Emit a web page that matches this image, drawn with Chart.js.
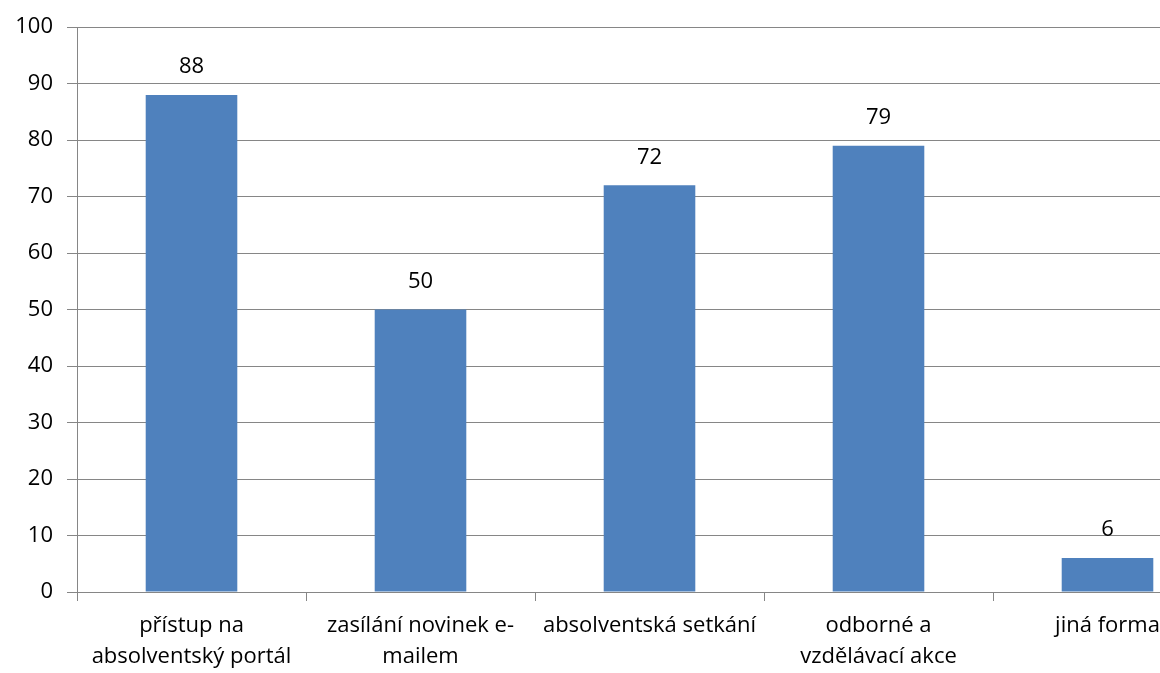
<!DOCTYPE html>
<html lang="cs">
<head>
    <meta charset="UTF-8">
    <title>Formy kontaktu s absolventy</title>
    <script src="https://cdn.jsdelivr.net/npm/chart.js"></script>
    <style>
        html, body { margin: 0; padding: 0; background: #fff; overflow: hidden; }
        #wrap { width: 1232px; height: 673px; }
    </style>
</head>
<body>

<div id="wrap"><canvas id="barChart"></canvas></div>

<script>
    // data
    const categories = [
        ['přístup na', 'absolventský portál'],
        ['zasílání novinek e-', 'mailem'],
        ['absolventská setkání'],
        ['odborné a', 'vzdělávací akce'],
        ['jiná forma']
    ];
    const values = [88, 50, 72, 79, 6];
    const yTicks = [0, 10, 20, 30, 40, 50, 60, 70, 80, 90, 100];

    const gridGrey = '#868686';
    const fontFamily = '"Open Sans", Lato, sans-serif';

    // value labels above the bars
    const valueLabels = {
        id: 'valueLabels',
        afterDatasetsDraw(chart) {
            const ctx = chart.ctx;
            const meta = chart.getDatasetMeta(0);
            ctx.save();
            ctx.font = '22px ' + fontFamily;
            ctx.fillStyle = '#000';
            ctx.textAlign = 'center';
            ctx.textBaseline = 'middle';
            meta.data.forEach((bar, i) => {
                ctx.fillText(String(values[i]), bar.x, bar.y - 28);
            });
            ctx.restore();
        }
    };

    new Chart(document.getElementById('barChart'), {
        type: 'bar',
        data: {
            labels: categories,
            datasets: [{
                data: values,
                backgroundColor: '#4F81BD',
                categoryPercentage: 1,
                barPercentage: 0.4
            }]
        },
        options: {
            responsive: true,
            maintainAspectRatio: false,
            animation: false,
            layout: { padding: { top: 26, right: 10, left: 0, bottom: 0 } },
            plugins: {
                legend: { display: false },
                tooltip: { enabled: false }
            },
            scales: {
                x: {
                    grid: {
                        offset: true,
                        drawOnChartArea: false,
                        drawTicks: true,
                        tickLength: 9,
                        color: gridGrey
                    },
                    border: { color: gridGrey },
                    ticks: {
                        color: '#000',
                        maxRotation: 0,
                        autoSkip: false,
                        padding: 10,
                        font: { family: fontFamily, size: 22, lineHeight: 1.38 }
                    },
                    afterFit(scale) { scale.height = 81; }
                },
                y: {
                    min: 0,
                    max: 100,
                    afterBuildTicks(scale) {
                        scale.ticks = yTicks.map(v => ({ value: v }));
                    },
                    grid: {
                        color: gridGrey,
                        tickLength: 10
                    },
                    border: { color: gridGrey },
                    ticks: {
                        color: '#000',
                        padding: 14,
                        font: { family: fontFamily, size: 22 }
                    },
                    afterFit(scale) { scale.width = 77; }
                }
            }
        },
        plugins: [valueLabels]
    });
</script>

</body>
</html>
